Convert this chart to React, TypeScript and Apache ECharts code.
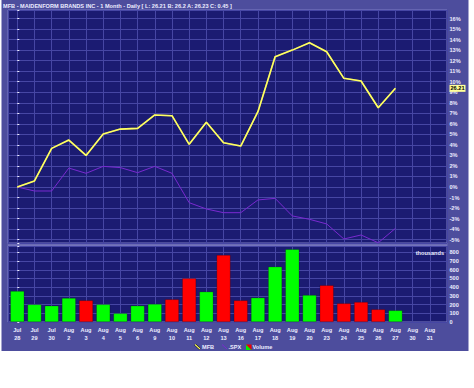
import React, { useEffect, useRef } from "react";
import * as echarts from "echarts";

const TITLE = "MFB - MAIDENFORM BRANDS INC - 1 Month - Daily [ L: 26.21 B: 26.2 A: 26.23 C: 0.45 ]";
const LAST_PRICE = "26.21";

const DATES = [
  "Jul\n28", "Jul\n29", "Jul\n30", "Aug\n2", "Aug\n3", "Aug\n4", "Aug\n5", "Aug\n6",
  "Aug\n9", "Aug\n10", "Aug\n11", "Aug\n12", "Aug\n13", "Aug\n16", "Aug\n17", "Aug\n18",
  "Aug\n19", "Aug\n20", "Aug\n23", "Aug\n24", "Aug\n25", "Aug\n26", "Aug\n27", "Aug\n30", "Aug\n31",
];

// % change since first day
const MFB = [0, 0.57, 3.67, 4.46, 3.0, 5.03, 5.5, 5.57, 6.84, 6.77, 4.05, 6.14, 4.2, 3.89, 7.15, 12.37, 13.0, 13.7, 12.85, 10.32, 10.07, 7.53, 9.37];
const SPX = [0, -0.38, -0.38, 1.8, 1.3, 1.96, 1.84, 1.36, 1.96, 1.3, -1.49, -2.09, -2.44, -2.44, -1.23, -1.08, -2.75, -3.07, -3.51, -4.94, -4.56, -5.3, -3.93];

// volume, thousands
const VOLUME = [356, 203, 188, 276, 249, 203, 100, 188, 207, 261, 502, 349, 770, 249, 280, 636, 836, 310, 422, 215, 230, 146, 134];
const VOLUME_DIR = ["up", "up", "up", "up", "down", "up", "up", "up", "up", "down", "down", "up", "down", "down", "up", "up", "up", "up", "down", "down", "down", "down", "up"];

const PANEL = "#4d4d9d";
const PLOT = "#1b1b72";
const GRIDLINE = "#4646a4";
const BORDER = "#7c7cc4";
const TEXT = "#ececff";
const FONT = "Liberation Sans, Arial, sans-serif";
const FS = 5.6;

export default function App() {
  const ref = useRef<HTMLDivElement>(null);
  useEffect(() => {
    if (!ref.current) return;
    const chart = echarts.init(ref.current, null, { renderer: "svg" });
    const isInt = (v: number) => Math.abs(v - Math.round(v)) < 1e-6;
    const xCommon = {
      type: "value" as const,
      min: -0.54,
      max: 25,
      splitNumber: 25,
      minInterval: 1,
      maxInterval: 1,
      axisLine: { show: false },
      axisTick: { show: false },
      splitLine: { show: true, lineStyle: { color: GRIDLINE, width: 1 } },
    };
    const option = {
      animation: false,
      textStyle: { fontFamily: FONT },
      graphic: [
        { type: "rect", z: -10, shape: { x: 1.5, y: 0, width: 467, height: 351 }, style: { fill: PANEL } },
        { type: "rect", z: -10, shape: { x: 7.5, y: 243, width: 440, height: 3 }, style: { fill: "#6a6ab4" } },
        {
          type: "text", x: 3, y: 5.5, z: 10,
          style: { text: TITLE, fill: TEXT, font: `bold ${FS}px ${FONT}`, textVerticalAlign: "middle" },
        },
        {
          type: "text", x: 444, y: 252.5, z: 10,
          style: { text: "thousands", fill: TEXT, font: `bold ${FS}px ${FONT}`, textAlign: "right", textVerticalAlign: "middle" },
        },
        // legend
        { type: "line", z: 10, shape: { x1: 195, y1: 344.5, x2: 200, y2: 349 }, style: { stroke: "#000", lineWidth: 2.2 } },
        { type: "line", z: 11, shape: { x1: 195, y1: 344.5, x2: 200, y2: 349 }, style: { stroke: "#ffff66", lineWidth: 1.1 } },
        { type: "text", x: 202, y: 347, z: 10, style: { text: "MFB", fill: TEXT, font: `bold ${FS}px ${FONT}`, textVerticalAlign: "middle" } },
        { type: "line", z: 10, shape: { x1: 222, y1: 344.5, x2: 227, y2: 349 }, style: { stroke: "#7a2ad0", lineWidth: 1 } },
        { type: "text", x: 228.5, y: 347, z: 10, style: { text: ".SPX", fill: TEXT, font: `bold ${FS}px ${FONT}`, textVerticalAlign: "middle" } },
        { type: "polygon", z: 10, shape: { points: [[246, 344.5], [246, 350], [251.5, 350]] }, style: { fill: "#00ee00" } },
        { type: "polygon", z: 10, shape: { points: [[246, 344.5], [251.5, 344.5], [251.5, 350]] }, style: { fill: "#ee0000" } },
        { type: "text", x: 252.5, y: 347, z: 10, style: { text: "Volume", fill: TEXT, font: `bold ${FS}px ${FONT}`, textVerticalAlign: "middle" } },
      ],
      grid: [
        { left: 8, top: 10, width: 439, height: 233, show: true, backgroundColor: PLOT, borderColor: BORDER, borderWidth: 1 },
        { left: 8, top: 246, width: 439, height: 76, show: true, backgroundColor: PLOT, borderColor: BORDER, borderWidth: 1 },
      ],
      xAxis: [
        { ...xCommon, gridIndex: 0, axisLabel: { show: false } },
        {
          ...xCommon,
          gridIndex: 1,
          axisLabel: {
            show: true,
            margin: 3.5,
            color: TEXT,
            fontSize: FS,
            fontWeight: "bold",
            lineHeight: 8,
            showMinLabel: false,
            formatter: (v: number) => (isInt(v) && DATES[Math.round(v)] ? DATES[Math.round(v)] : ""),
          },
        },
      ],
      yAxis: [
        {
          type: "value",
          gridIndex: 0,
          position: "right",
          min: -5.32,
          max: 16.81,
          splitNumber: 22,
          minInterval: 1,
          maxInterval: 1,
          axisLine: { show: false },
          axisTick: { show: true, length: 2, lineStyle: { color: TEXT } },
          splitLine: { show: true, lineStyle: { color: GRIDLINE, width: 1 } },
          axisLabel: {
            color: TEXT, fontSize: FS, fontWeight: "bold", margin: 2.5,
            formatter: (v: number) => (isInt(v) ? `${Math.round(v)}%` : ""),
          },
        },
        {
          type: "value",
          gridIndex: 1,
          position: "right",
          min: 0,
          max: 873,
          splitNumber: 9,
          minInterval: 100,
          maxInterval: 100,
          axisLine: { show: false },
          axisTick: { show: true, length: 2, lineStyle: { color: TEXT } },
          splitLine: { show: true, lineStyle: { color: GRIDLINE, width: 1 } },
          axisLabel: {
            color: TEXT, fontSize: FS, fontWeight: "bold", margin: 2.5,
            formatter: (v: number) => (Math.abs(v % 100) < 1e-6 ? `${v}` : ""),
          },
        },
      ],
      series: [
        {
          name: ".SPX",
          type: "line",
          xAxisIndex: 0,
          yAxisIndex: 0,
          data: SPX.map((v, i) => [i, v]),
          symbol: "none",
          lineStyle: { color: "#7a2ad0", width: 1 },
          z: 3,
        },
        {
          name: "MFB",
          type: "line",
          xAxisIndex: 0,
          yAxisIndex: 0,
          data: MFB.map((v, i) => [i, v]),
          symbol: "none",
          lineStyle: { color: "#ffff66", width: 1.6, shadowColor: "rgba(0,0,0,0.9)", shadowBlur: 1.5 },
          z: 4,
          markLine: {
            silent: true,
            symbol: ["none", "none"],
            animation: false,
            lineStyle: { color: "transparent", width: 0 },
            label: {
              show: true,
              position: "end",
              distance: 2.5,
              formatter: LAST_PRICE,
              color: "#000",
              backgroundColor: "#ffff99",
              fontSize: FS,
              fontWeight: "bold",
              padding: [1, 1, 0, 1],
            },
            data: [{ yAxis: MFB[MFB.length - 1] }],
          },
        },
        {
          name: "Volume",
          type: "bar",
          xAxisIndex: 1,
          yAxisIndex: 1,
          barWidth: 14,
          data: VOLUME.map((v, i) => ({
            value: [i, v],
            itemStyle: { color: VOLUME_DIR[i] === "up" ? "#00ff00" : "#ff0000", borderColor: "rgba(0,0,0,0.35)", borderWidth: 0.6 },
          })),
        },
      ],
    };
    chart.setOption(option as any);
    return () => chart.dispose();
  }, []);
  return (
    <div style={{ position: "fixed", left: 0, top: 0, width: 474, height: 388, background: "#fff" }}>
      <div ref={ref} style={{ width: 474, height: 388 }} />
    </div>
  );
}
